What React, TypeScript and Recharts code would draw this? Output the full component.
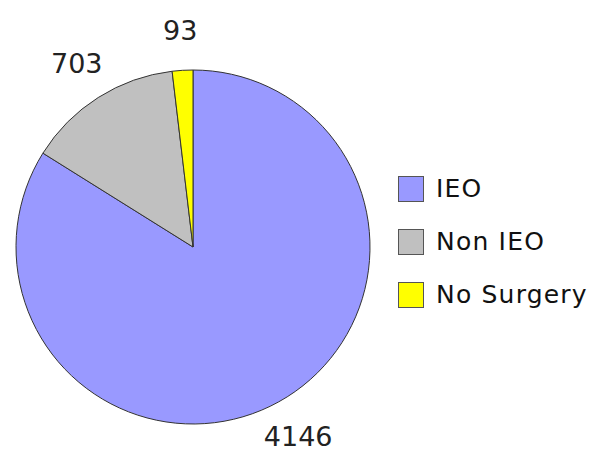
import { Cell, Legend, Pie, PieChart } from "recharts";

const categories = ["IEO", "Non IEO", "No Surgery"];
const counts = [4146, 703, 93];
const colors = ["#9999ff", "#c0c0c0", "#ffff00"];

const rows = categories.map((name, i) => ({ name, value: counts[i] }));

const RADIAN = Math.PI / 180;

function renderLabel(props: any) {
  const { cx, cy, midAngle, outerRadius, value } = props;
  const r = outerRadius + 40;
  const x = cx + r * Math.cos(-midAngle * RADIAN);
  const y = cy + r * Math.sin(-midAngle * RADIAN);
  return (
    <text
      x={x}
      y={y}
      textAnchor="middle"
      dominantBaseline="central"
      fontFamily="DejaVu Sans"
      fontSize={27}
      fill="#222"
    >
      {value}
    </text>
  );
}

function LegendBox() {
  return (
    <div style={{ fontFamily: "DejaVu Sans", fontSize: 25, letterSpacing: 1.2, color: "#111" }}>
      {rows.map((r, i) => (
        <div key={r.name} style={{ display: "flex", alignItems: "center", height: 53 }}>
          <span
            style={{
              display: "inline-block",
              width: 24,
              height: 24,
              background: colors[i],
              border: "1px solid #555",
              marginRight: 12,
            }}
          />
          <span>{r.name}</span>
        </div>
      ))}
    </div>
  );
}

export default function App() {
  return (
    <PieChart width={597} height={462} margin={{ top: 0, right: 0, bottom: 0, left: 0 }}>
      <Pie
        data={rows}
        dataKey="value"
        nameKey="name"
        cx={185}
        cy={239}
        outerRadius={177}
        startAngle={90}
        endAngle={-270}
        stroke="#333"
        strokeWidth={1}
        label={renderLabel}
        labelLine={false}
        isAnimationActive={false}
      >
        {rows.map((r, i) => (
          <Cell key={r.name} fill={colors[i]} />
        ))}
      </Pie>
      <Legend
        layout="vertical"
        verticalAlign="top"
        align="right"
        wrapperStyle={{ left: 390, right: "auto", top: 154, width: 210 }}
        content={() => <LegendBox />}
      />
    </PieChart>
  );
}
